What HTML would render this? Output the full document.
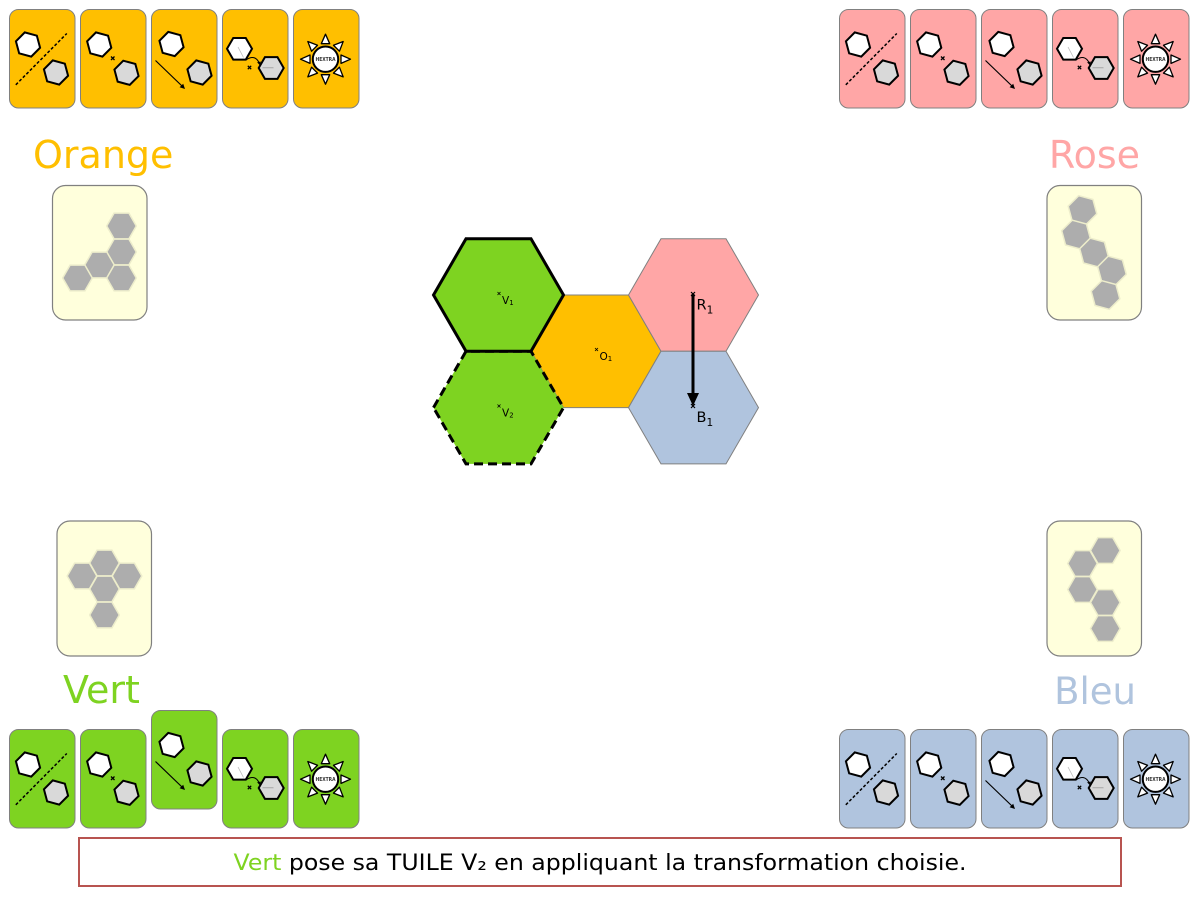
<!DOCTYPE html>
<html><head><meta charset="utf-8"><style>
html,body{margin:0;padding:0;background:#fff;}
svg{display:block;}
text{font-family:"DejaVu Sans","Liberation Sans",sans-serif;}
</style></head><body>
<svg width="1200" height="900" viewBox="0 0 1200 900" xmlns="http://www.w3.org/2000/svg">
<defs>
  <path id="hs" d="M12.5,0 L6.25,10.83 L-6.25,10.83 L-12.5,0 L-6.25,-10.83 L6.25,-10.83 Z"/>
  <path id="ht" d="M14.8,0 L7.4,12.82 L-7.4,12.82 L-14.8,0 L-7.4,-12.82 L7.4,-12.82 Z"/>
  <polygon id="tri" points="15.5,-4.2 15.5,4.2 25,0"/>
  <g id="c1">
    <line x1="6.3" y1="75.3" x2="57.3" y2="24" stroke="#000" stroke-width="1.5" stroke-dasharray="3,2"/>
    <use href="#hs" transform="translate(18.5,35) rotate(15)" fill="#fff" stroke="#000" stroke-width="2"/>
    <use href="#hs" transform="translate(46.5,63) rotate(15)" fill="#d9d9d9" stroke="#000" stroke-width="2"/>
  </g>
  <g id="c2">
    <use href="#hs" transform="translate(18.7,35) rotate(15)" fill="#fff" stroke="#000" stroke-width="2"/>
    <use href="#hs" transform="translate(46,63.3) rotate(15)" fill="#d9d9d9" stroke="#000" stroke-width="2"/>
    <path d="M30.5,47 L34,50.5 M34,47 L30.5,50.5" stroke="#000" stroke-width="1.3"/>
  </g>
  <g id="c3">
    <use href="#hs" transform="translate(20,34.5) rotate(15)" fill="#fff" stroke="#000" stroke-width="2"/>
    <use href="#hs" transform="translate(48,63) rotate(15)" fill="#d9d9d9" stroke="#000" stroke-width="2"/>
    <line x1="4" y1="51" x2="30.5" y2="76.5" stroke="#000" stroke-width="1.2"/>
    <polygon points="33.5,79.5 28.1,77.8 31.7,74.2" fill="#000"/>
  </g>
  <g id="c4">
    <use href="#hs" transform="translate(17,39.3)" fill="#fff" stroke="#000" stroke-width="2"/>
    <use href="#hs" transform="translate(48.7,58.5)" fill="#d9d9d9" stroke="#000" stroke-width="2"/>
    <line x1="15.5" y1="37.5" x2="21" y2="48" stroke="#bbb" stroke-width="0.8"/>
    <line x1="40" y1="58.3" x2="51" y2="58.3" stroke="#999" stroke-width="0.8"/>
    <path d="M25.3,56.3 L28.7,59.7 M28.7,56.3 L25.3,59.7" stroke="#000" stroke-width="1.3"/>
    <path d="M23.7,50.3 Q32,44.5 36.5,53" fill="none" stroke="#000" stroke-width="1"/>
    <polygon points="37.5,56 34.6,52.8 38.2,52" fill="#000"/>
  </g>
  <g id="c5">
    <g transform="translate(32,49.7)" fill="#fff" stroke="#000" stroke-width="1.3" stroke-linejoin="round">
      <use href="#tri" transform="rotate(0)"/>
      <use href="#tri" transform="rotate(45)"/>
      <use href="#tri" transform="rotate(90)"/>
      <use href="#tri" transform="rotate(135)"/>
      <use href="#tri" transform="rotate(180)"/>
      <use href="#tri" transform="rotate(225)"/>
      <use href="#tri" transform="rotate(270)"/>
      <use href="#tri" transform="rotate(315)"/>
      <circle r="12.7" stroke-width="2"/>
    </g>
  </g>
</defs>

<!-- ===== Top-left orange cards ===== -->
<g stroke="#808080" stroke-width="1" fill="#FFBF00">
  <rect x="9.5" y="9.5" width="65.5" height="98.5" rx="9"/>
  <rect x="80.5" y="9.5" width="65.5" height="98.5" rx="9"/>
  <rect x="151.5" y="9.5" width="65.5" height="98.5" rx="9"/>
  <rect x="222.5" y="9.5" width="65.5" height="98.5" rx="9"/>
  <rect x="293.5" y="9.5" width="65.5" height="98.5" rx="9"/>
</g>
<use href="#c1" transform="translate(9.5,9.5)"/>
<use href="#c2" transform="translate(80.5,9.5)"/>
<use href="#c3" transform="translate(151.5,9.5)"/>
<use href="#c4" transform="translate(222.5,9.5)"/>
<use href="#c5" transform="translate(293.5,9.5)"/>
<text x="325.5" y="61.2" font-size="5.5" font-weight="bold" text-anchor="middle" fill="#333" textLength="20" lengthAdjust="spacingAndGlyphs">HEXTRA</text>

<!-- ===== Top-right pink cards ===== -->
<g stroke="#808080" stroke-width="1" fill="#FFA6A6">
  <rect x="839.5" y="9.5" width="65.5" height="98.5" rx="9"/>
  <rect x="910.5" y="9.5" width="65.5" height="98.5" rx="9"/>
  <rect x="981.5" y="9.5" width="65.5" height="98.5" rx="9"/>
  <rect x="1052.5" y="9.5" width="65.5" height="98.5" rx="9"/>
  <rect x="1123.5" y="9.5" width="65.5" height="98.5" rx="9"/>
</g>
<use href="#c1" transform="translate(839.5,9.5)"/>
<use href="#c2" transform="translate(910.5,9.5)"/>
<use href="#c3" transform="translate(981.5,9.5)"/>
<use href="#c4" transform="translate(1052.5,9.5)"/>
<use href="#c5" transform="translate(1123.5,9.5)"/>
<text x="1155.5" y="61.2" font-size="5.5" font-weight="bold" text-anchor="middle" fill="#333" textLength="20" lengthAdjust="spacingAndGlyphs">HEXTRA</text>

<!-- ===== Bottom-left green cards ===== -->
<g stroke="#808080" stroke-width="1" fill="#7ED321">
  <rect x="9.5" y="729.5" width="65.5" height="98.5" rx="9"/>
  <rect x="80.5" y="729.5" width="65.5" height="98.5" rx="9"/>
  <rect x="151.5" y="710.5" width="65.5" height="98.5" rx="9"/>
  <rect x="222.5" y="729.5" width="65.5" height="98.5" rx="9"/>
  <rect x="293.5" y="729.5" width="65.5" height="98.5" rx="9"/>
</g>
<use href="#c1" transform="translate(9.5,729.5)"/>
<use href="#c2" transform="translate(80.5,729.5)"/>
<use href="#c3" transform="translate(151.5,710.5)"/>
<use href="#c4" transform="translate(222.5,729.5)"/>
<use href="#c5" transform="translate(293.5,729.5)"/>
<text x="325.5" y="781.2" font-size="5.5" font-weight="bold" text-anchor="middle" fill="#333" textLength="20" lengthAdjust="spacingAndGlyphs">HEXTRA</text>

<!-- ===== Bottom-right blue cards ===== -->
<g stroke="#808080" stroke-width="1" fill="#B0C4DE">
  <rect x="839.5" y="729.5" width="65.5" height="98.5" rx="9"/>
  <rect x="910.5" y="729.5" width="65.5" height="98.5" rx="9"/>
  <rect x="981.5" y="729.5" width="65.5" height="98.5" rx="9"/>
  <rect x="1052.5" y="729.5" width="65.5" height="98.5" rx="9"/>
  <rect x="1123.5" y="729.5" width="65.5" height="98.5" rx="9"/>
</g>
<use href="#c1" transform="translate(839.5,729.5)"/>
<use href="#c2" transform="translate(910.5,729.5)"/>
<use href="#c3" transform="translate(981.5,729.5)"/>
<use href="#c4" transform="translate(1052.5,729.5)"/>
<use href="#c5" transform="translate(1123.5,729.5)"/>
<text x="1155.5" y="781.2" font-size="5.5" font-weight="bold" text-anchor="middle" fill="#333" textLength="20" lengthAdjust="spacingAndGlyphs">HEXTRA</text>

<!-- ===== Player names ===== -->
<text x="33" y="168" font-size="38" fill="#FFBF00">Orange</text>
<text x="1140" y="168" font-size="38" fill="#FFA6A6" text-anchor="end">Rose</text>
<text x="63" y="703" font-size="38" fill="#7ED321">Vert</text>
<text x="1136" y="704" font-size="37" fill="#B0C4DE" text-anchor="end">Bleu</text>

<!-- ===== Tile cards ===== -->
<g fill="#FFFFDC" stroke="#808080" stroke-width="1.2">
  <rect x="52.5" y="185.5" width="94.5" height="134.5" rx="13"/>
  <rect x="1047" y="185.5" width="94.5" height="134.5" rx="13"/>
  <rect x="57" y="521" width="94.5" height="135" rx="13"/>
  <rect x="1047" y="521" width="94.5" height="135" rx="13"/>
</g>
<g fill="#ADADAD" stroke="#EDEDCB" stroke-width="1.5">
  <!-- orange tile -->
  <use href="#ht" transform="translate(121.5,226)"/>
  <use href="#ht" transform="translate(121.5,252)"/>
  <use href="#ht" transform="translate(99.5,265)"/>
  <use href="#ht" transform="translate(121.5,278)"/>
  <use href="#ht" transform="translate(77.5,278)"/>
  <!-- rose tile -->
  <use href="#ht" transform="translate(1082.5,210) rotate(15)"/>
  <use href="#ht" transform="translate(1076,234.5) rotate(15)"/>
  <use href="#ht" transform="translate(1094,252.5) rotate(15)"/>
  <use href="#ht" transform="translate(1112,270.5) rotate(15)"/>
  <use href="#ht" transform="translate(1105.5,295) rotate(15)"/>
  <!-- vert tile -->
  <use href="#ht" transform="translate(104.5,563)"/>
  <use href="#ht" transform="translate(82,576)"/>
  <use href="#ht" transform="translate(127,576)"/>
  <use href="#ht" transform="translate(104.5,589)"/>
  <use href="#ht" transform="translate(104.5,615)"/>
  <!-- bleu tile -->
  <use href="#ht" transform="translate(1105.3,550.5)"/>
  <use href="#ht" transform="translate(1082.5,563.5)"/>
  <use href="#ht" transform="translate(1082.5,589.5)"/>
  <use href="#ht" transform="translate(1105.3,602.5)"/>
  <use href="#ht" transform="translate(1105.3,628.5)"/>
</g>

<!-- ===== Central board ===== -->
<g stroke="#808080" stroke-width="1">
  <polygon fill="#FFBF00" points="531,351.3 563.5,295 628.5,295 661,351.3 628.5,407.6 563.5,407.6"/>
  <polygon fill="#FFA6A6" points="628.5,295 661,238.7 726,238.7 758.5,295 726,351.3 661,351.3"/>
  <polygon fill="#B0C4DE" points="628.5,407.6 661,351.3 726,351.3 758.5,407.6 726,463.9 661,463.9"/>
</g>
<polygon fill="#7ED321" stroke="#000" stroke-width="3" stroke-dasharray="9,5" points="433.5,407.6 466,351.3 531,351.3 563.5,407.6 531,463.9 466,463.9"/>
<polygon fill="#7ED321" stroke="#000" stroke-width="3" stroke-linejoin="miter" points="433.5,295 466,238.7 531,238.7 563.5,295 531,351.3 466,351.3"/>

<!-- markers -->
<g stroke="#000" stroke-width="0.8">
  <path d="M497.5,292 L500.5,295 M500.5,292 L497.5,295"/>
  <path d="M497.5,404.5 L500.5,407.5 M500.5,404.5 L497.5,407.5"/>
  <path d="M595,348 L598,351 M598,348 L595,351"/>
</g>
<text x="502" y="304" font-size="10.5" fill="#000">V<tspan font-size="7" dy="1">1</tspan></text>
<text x="502" y="416.5" font-size="10.5" fill="#000">V<tspan font-size="7" dy="1">2</tspan></text>
<text x="599.5" y="360" font-size="10.5" fill="#000">O<tspan font-size="7" dy="1">1</tspan></text>

<!-- arrow R1 -> B1 -->
<line x1="693" y1="294" x2="693" y2="395" stroke="#000" stroke-width="3"/>
<polygon points="687,393 699,393 693,406" fill="#000"/>
<g stroke="#000" stroke-width="1.2">
  <path d="M691,292 L695,296 M695,292 L691,296"/>
  <path d="M691,404 L695,408 M695,404 L691,408"/>
</g>
<text x="696.5" y="309.5" font-size="14.5" fill="#000">R<tspan font-size="10.5" dy="4">1</tspan></text>
<text x="696.5" y="422" font-size="14.5" fill="#000">B<tspan font-size="10.5" dy="4">1</tspan></text>

<!-- ===== Banner ===== -->
<rect x="79" y="838" width="1042" height="48" fill="#fff" stroke="#B85450" stroke-width="2"/>
<text x="233.5" y="870" font-size="22" fill="#000" textLength="733" lengthAdjust="spacingAndGlyphs"><tspan fill="#7ED321">Vert</tspan> pose sa TUILE V₂ en appliquant la transformation choisie.</text>
</svg>
</body></html>
